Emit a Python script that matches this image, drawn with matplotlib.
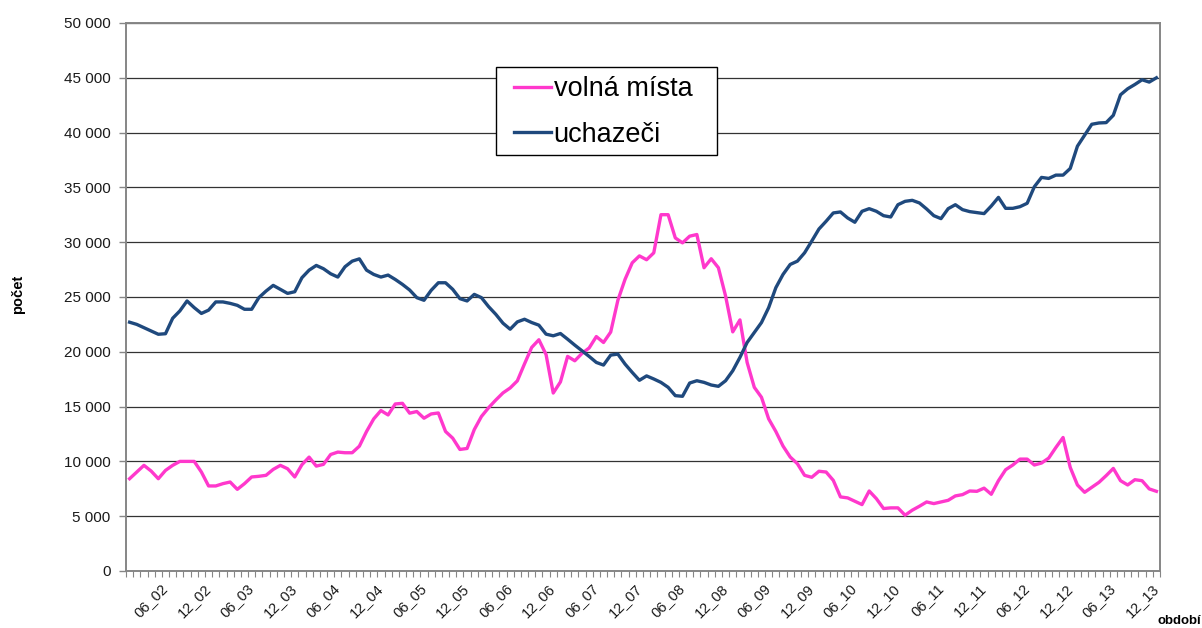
import matplotlib
matplotlib.use("Agg")
import matplotlib.pyplot as plt
import numpy as np
from matplotlib.ticker import FuncFormatter, FixedLocator
from matplotlib.patches import Rectangle

plt.rcParams['font.family'] = ['Liberation Sans', 'DejaVu Sans']

# ---- data -------------------------------------------------------------------

years = list(range(2002, 2014))
months = list(range(1, 13))
periods = ["%02d_%02d" % (m, y % 100) for y in years for m in months]

# volná místa (job vacancies), monthly 01_02 .. 12_13
volna = [8420, 9030, 9640, 9120, 8420, 9180, 9640, 10000, 10000, 10000, 9030, 7760,
         7760, 7970, 8120, 7450, 7970, 8580, 8640, 8730, 9270, 9640, 9330, 8580,
         9700, 10390, 9570, 9730, 10630, 10850, 10790, 10790, 11390, 12730, 13880, 14640,
         14240, 15240, 15300, 14400, 14550, 13940, 14330, 14420, 12730, 12120, 11090, 11180,
         12900, 14100, 14900, 15600, 16250, 16700, 17350, 18900, 20400, 21100, 19750, 16240,
         17250, 19580, 19180, 19850, 20350, 21390, 20850, 21800, 24700, 26610, 28120, 28750,
         28400, 29030, 32510, 32510, 30390, 29940, 30550, 30700, 27670, 28490, 27670, 25090,
         21820, 22910, 19030, 16760, 15850, 13880, 12730, 11400, 10400, 9790, 8730, 8550,
         9100, 9030, 8270, 6760, 6670, 6360, 6060, 7300, 6600, 5700, 5760, 5760,
         5090, 5550, 5910, 6300, 6150, 6300, 6450, 6850, 6970, 7300, 7270, 7560,
         7000, 8240, 9240, 9670, 10210, 10210, 9670, 9850, 10300, 11270, 12180, 9450,
         7850, 7180, 7640, 8090, 8700, 9360, 8240, 7850, 8330, 8240, 7490, 7270]

# uchazeči (job seekers)
uchazeci = [22700, 22500, 22200, 21900, 21600, 21650, 23060, 23730, 24640, 24030, 23500, 23800,
            24550, 24550, 24420, 24240, 23880, 23880, 24940, 25540, 26060, 25700, 25330, 25480,
            26760, 27450, 27880, 27580, 27120, 26820, 27760, 28270, 28480, 27450, 27060, 26820,
            27000, 26600, 26150, 25640, 24940, 24700, 25610, 26300, 26300, 25700, 24850, 24640,
            25240, 24940, 24120, 23420, 22610, 22060, 22730, 22970, 22670, 22430, 21610, 21460,
            21670, 21150, 20610, 20090, 19580, 19030, 18790, 19700, 19790, 18880, 18120, 17400,
            17800, 17520, 17210, 16760, 16000, 15940, 17150, 17360, 17210, 16970, 16850, 17360,
            18270, 19490, 20850, 21760, 22670, 24030, 25850, 27060, 27970, 28270, 29030, 30100,
            31200, 31910, 32670, 32760, 32210, 31820, 32820, 33060, 32820, 32420, 32300, 33420,
            33730, 33820, 33580, 33030, 32420, 32150, 33060, 33420, 32970, 32790, 32700, 32610,
            33300, 34090, 33090, 33090, 33240, 33550, 35060, 35910, 35820, 36120, 36120, 36730,
            38760, 39760, 40760, 40880, 40910, 41580, 43450, 44000, 44390, 44820, 44610, 45000]

series_names = ["volná místa", "uchazeči"]
series_colors = ["#FF38CC", "#1F497D"]

# ---- plot -------------------------------------------------------------------

fig = plt.figure(figsize=(12.02, 6.28), dpi=100)
ax = fig.add_axes([126 / 1202., 1 - 571 / 628., 1034 / 1202., 548 / 628.])

x = np.arange(len(periods))
ax.plot(x, volna, color=series_colors[0], lw=2.4, label=series_names[0], solid_joinstyle='round')
ax.plot(x, uchazeci, color=series_colors[1], lw=2.4, label=series_names[1], solid_joinstyle='round')

ax.set_xlim(-0.5, len(periods) - 0.5)
ax.set_ylim(0, 50000)

# y axis
ax.set_yticks(np.arange(0, 50001, 5000))
ax.yaxis.set_major_formatter(FuncFormatter(lambda v, p: "{:,}".format(int(v)).replace(",", " ")))
ax.yaxis.grid(True, color="#333333", lw=0.9)
ax.set_axisbelow(True)
ax.tick_params(axis='y', direction='out', length=5, width=1, color="#868686",
               labelsize=11, pad=6, labelcolor="#1a1a1a")

# x axis: labels at 06 and 12, small ticks between categories
lab_idx = [i for i, p in enumerate(periods) if p[:2] in ("06", "12")]
ax.xaxis.set_major_locator(FixedLocator(lab_idx))
ax.set_xticklabels([periods[i] for i in lab_idx], rotation=45, ha='right', va='center',
                   rotation_mode='anchor', fontsize=10.5, color="#1a1a1a")
ax.xaxis.set_minor_locator(FixedLocator(np.arange(-0.5, len(periods), 1.0)))
ax.tick_params(axis='x', which='major', length=0, pad=11)
ax.tick_params(axis='x', which='minor', direction='out', length=4, width=0.8, color="#868686")

for s in ax.spines.values():
    s.set_color("#868686")
    s.set_linewidth(1.4)

# legend with a plain black frame
leg = ax.legend(loc='upper left', bbox_to_anchor=(0.3755, 0.903), frameon=False,
                fontsize=19.5, handlelength=1.35, handletextpad=0.1, labelspacing=0.72,
                borderpad=0, borderaxespad=0)
for t in leg.get_texts():
    t.set_color("#000000")
ax.add_patch(Rectangle((0.3575, 0.759), 0.2141, 0.1613, transform=ax.transAxes,
                       facecolor="white", edgecolor="black", lw=1, zorder=4))
leg.set_zorder(5)

fig.text(18 / 1202., 1 - 294 / 628., "počet", rotation=90, ha='center', va='center',
         fontsize=10.5, fontweight='bold')
fig.text(1201 / 1202., 1 - 621 / 628., "období", ha='right', va='center',
         fontsize=9.5, fontweight='bold')

plt.savefig("out.png", dpi=100)
